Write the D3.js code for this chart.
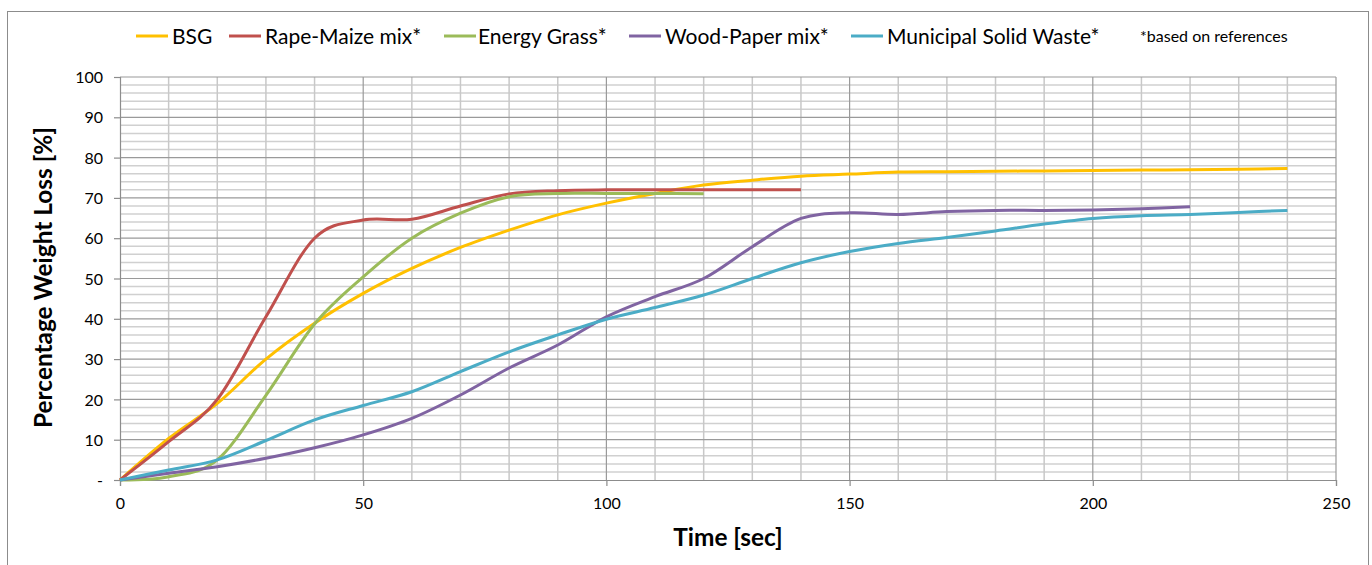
<!DOCTYPE html>
<html><head><meta charset="utf-8">
<script src="https://cdn.jsdelivr.net/npm/d3@7"></script>
<style>
body{margin:0;background:#fff;}
text{font-family:Lato,"Open Sans",sans-serif;fill:#000;}
</style></head>
<body>
<svg id="c" width="1372" height="565"></svg>
<script>
const seriesNames = ["BSG","Rape-Maize mix*","Energy Grass*","Wood-Paper mix*","Municipal Solid Waste*"];
const seriesColors = ["#FFC000","#C0504D","#9BBB59","#8064A2","#4BACC6"];
const xBSG = [0,10,20,30,40,50,60,70,80,90,100,110,120,130,140,150,160,170,180,190,200,210,220,230,240];
const yBSG = [0,10.3,19,30,38.9,46.3,52.5,57.7,62,65.8,68.7,71.1,73.2,74.4,75.4,75.9,76.4,76.5,76.6,76.7,76.8,76.9,77.0,77.1,77.3];
const xRape = [0,10,20,30,40,50,60,70,80,90,100,110,120,130,140];
const yRape = [0,9.5,20,40.5,60,64.5,64.7,68,71,71.8,72,72,72,72,72];
const xGrass = [0,10,20,30,40,50,60,70,80,90,100,110,120];
const yGrass = [0,0.8,5,21,38.7,50.4,60,66.2,70.3,71.1,71.1,71.1,71];
const xWood = [0,10,20,30,40,50,60,70,80,90,100,110,120,130,140,150,160,170,180,190,200,210,220];
const yWood = [0,1.7,3.3,5.4,8,11.2,15.3,21.1,27.8,33.5,40.5,45.5,50,57.9,64.9,66.3,65.9,66.6,66.9,66.9,67,67.3,67.8];
const xMSW = [0,10,20,30,40,50,60,70,80,90,100,110,120,130,140,150,160,170,180,190,200,210,220,230,240];
const yMSW = [0,2.5,5,9.8,14.9,18.5,21.9,26.9,31.8,36,39.9,42.8,45.9,50,53.9,56.7,58.7,60.2,61.8,63.5,64.9,65.6,65.9,66.4,66.9];
const xTicks = [0,50,100,150,200,250];
const yTicks = [0,10,20,30,40,50,60,70,80,90,100];
const yTickLabels = ["-","10","20","30","40","50","60","70","80","90","100"];
const footnote = "*based on references";
const xTitle = "Time [sec]";
const yTitle = "Percentage Weight Loss [%]";

const xs = [xBSG,xRape,xGrass,xWood,xMSW];
const ys = [yBSG,yRape,yGrass,yWood,yMSW];

const svg = d3.select("#c");
const L=120,R=1336,T=77,B=480;
const x = d3.scaleLinear().domain([0,250]).range([L,R]);
const y = d3.scaleLinear().domain([0,100]).range([B,T]);

svg.append("rect").attr("x",7.5).attr("y",11.5).attr("width",1361).attr("height",560)
  .attr("fill","none").attr("stroke","#8c8c8c").attr("stroke-width",1);

const g = svg.append("g");
g.selectAll(".hmin").data(d3.range(0,101,2).filter(v=>v%10!==0)).join("line")
  .attr("x1",L).attr("x2",R).attr("y1",d=>y(d)).attr("y2",d=>y(d))
  .attr("stroke","#d0d0d0").attr("stroke-width",1.5);
g.selectAll(".vmin").data(d3.range(10,251,10).filter(v=>v%50!==0)).join("line")
  .attr("y1",T).attr("y2",B).attr("x1",d=>x(d)).attr("x2",d=>x(d))
  .attr("stroke","#c8c8c8").attr("stroke-width",1.5);
g.selectAll(".hmaj").data(yTicks.slice(1)).join("line")
  .attr("x1",L).attr("x2",R).attr("y1",d=>y(d)).attr("y2",d=>y(d))
  .attr("stroke","#9a9a9a").attr("stroke-width",1.2);
g.selectAll(".vmaj").data(xTicks.slice(1)).join("line")
  .attr("y1",T).attr("y2",B).attr("x1",d=>x(d)).attr("x2",d=>x(d))
  .attr("stroke","#9a9a9a").attr("stroke-width",1.2);

const yAxis = d3.axisLeft(y).tickValues(yTicks).tickSize(6).tickPadding(11)
  .tickFormat((d,i)=>yTickLabels[i]);
const ya = svg.append("g").attr("transform",`translate(${L},0)`).call(yAxis);
ya.select(".domain").attr("stroke","#8c8c8c").attr("stroke-width",1.2);
ya.selectAll(".tick line").attr("stroke","#8c8c8c").attr("stroke-width",1.2);
ya.selectAll("text").style("font-size","16px").attr("dy","0.35em");

const xAxis = d3.axisBottom(x).tickValues(xTicks).tickSize(6).tickPadding(12);
const xa = svg.append("g").attr("transform",`translate(0,${B})`).call(xAxis);
xa.select(".domain").attr("stroke","#8c8c8c").attr("stroke-width",1.2);
xa.selectAll(".tick line").attr("stroke","#8c8c8c").attr("stroke-width",1.2);
xa.selectAll("text").style("font-size","16px");

const line = d3.line().curve(d3.curveCardinal.tension(0)).x(d=>x(d[0])).y(d=>y(d[1]));
seriesNames.forEach((n,i)=>{
  const pts = xs[i].map((v,j)=>[v,ys[i][j]]);
  svg.append("path").datum(pts).attr("d",line).attr("fill","none")
    .attr("stroke",seriesColors[i]).attr("stroke-width",3);
});

svg.append("text").attr("x",728).attr("y",546).attr("text-anchor","middle")
  .style("font-size","24.4px").style("font-weight","bold").text(xTitle);
svg.append("text").attr("transform","translate(52,277.5) rotate(-90)").attr("text-anchor","middle")
  .style("font-size","24.4px").style("font-weight","bold").text(yTitle);

const legX = [136,229,444,629,851];
const legTX = [172,265,478,665,887];
const lg = svg.append("g");
seriesNames.forEach((n,i)=>{
  lg.append("line").attr("x1",legX[i]).attr("x2",legX[i]+32).attr("y1",36).attr("y2",36)
    .attr("stroke",seriesColors[i]).attr("stroke-width",3);
  lg.append("text").attr("x",legTX[i]).attr("y",36).attr("dy","0.36em")
    .style("font-size","21px").text(n);
});
lg.append("text").attr("x",1140).attr("y",36).attr("dy","0.35em")
  .style("font-size","16px").text(footnote);
</script>
</body></html>
